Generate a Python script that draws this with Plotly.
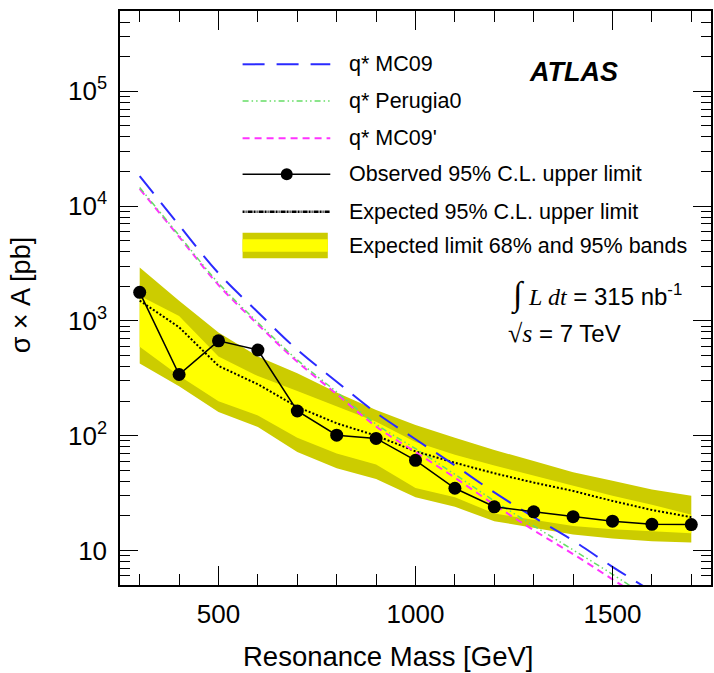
import plotly.graph_objects as go

# ---------------- data ----------------
mass = [300, 400, 500, 600, 700, 800, 900, 1000, 1100, 1200, 1300, 1400, 1500, 1600, 1700]
observed = [1770, 341, 670, 557, 164, 101, 94.6, 61, 34.8, 24, 21.7, 19.7, 18.0, 16.9, 16.8]
expected = [1500, 880, 405, 280, 178, 128, 100, 73, 58, 47, 39, 33, 27, 22.5, 19.5]
band68_lo = [595, 333, 199, 150, 96, 70, 56, 35, 29, 21, 18.5, 16.3, 15.3, 14.6, 14.1]
band68_hi = [1650, 1100, 490, 330, 245, 180, 132, 88, 68, 55, 45, 37, 30, 25, 20.5]
band95_lo = [426, 269, 161, 119, 72, 52, 42, 29, 24, 18, 15.7, 13.8, 12.7, 12.0, 11.7]
band95_hi = [2920, 1500, 790, 490, 350, 237, 167, 124, 96, 75, 60, 48, 40.5, 34, 30]

theory_mass = [300, 400, 500, 600, 700, 800, 900, 1000, 1100, 1200, 1300, 1400, 1500, 1600]
qstar_mc09 = [18200, 6800, 2600, 1190, 560, 295, 158, 93, 55, 32, 19.5, 12.2, 7.2, 4.4]
qstar_perugia0 = [14500, 5550, 2130, 965, 457, 240, 126, 77, 46, 27, 16.4, 10.1, 6.2, 3.7]
qstar_mc09p = [14100, 5400, 2050, 930, 440, 230, 120, 72, 43, 25, 15.0, 9.3, 5.6, 3.4]

legend_labels = ["q* MC09", "q* Perugia0", "q* MC09'",
                 "Observed 95% C.L. upper limit", "Expected 95% C.L. upper limit",
                 "Expected limit 68% and 95% bands"]

x_range = [250, 1750]
y_tickvals = [10, 100, 1000, 10000, 100000]
y_ticktext = ["10", "10<sup>2</sup>", "10<sup>3</sup>", "10<sup>4</sup>", "10<sup>5</sup>"]
y_minor = [m * 10 ** e for e in range(0, 6) for m in range(2, 10)]

# ---------------- colours / styles ----------------
C_BLUE = "#2a2aff"
C_GREEN = "#66dd66"
C_MAG = "#ff33ff"
C_DARK = "#cccc00"
C_LIGHT = "#ffff00"
FONT = "Liberation Sans, Arial, Helvetica, sans-serif"

W, H = 714, 673
L, R, T, B = 120, 1, 11, 88
PW, PH = W - L - R, H - T - B


def px(x):
    return (x - L) / PW


def py(y):
    return (H - B - y) / PH


fig = go.Figure()

# bands
fig.add_trace(go.Scatter(x=mass + mass[::-1], y=band95_hi + band95_lo[::-1],
                         fill="toself", fillcolor=C_DARK, line=dict(width=0),
                         mode="lines", hoverinfo="skip", showlegend=False))
fig.add_trace(go.Scatter(x=mass + mass[::-1], y=band68_hi + band68_lo[::-1],
                         fill="toself", fillcolor=C_LIGHT, line=dict(width=0),
                         mode="lines", hoverinfo="skip", showlegend=False))

# expected
fig.add_trace(go.Scatter(x=mass, y=expected, mode="lines",
                         line=dict(color="black", width=2, dash="2px,2px"),
                         showlegend=False))

# theory curves
fig.add_trace(go.Scatter(x=theory_mass, y=qstar_mc09p, mode="lines", line_shape="spline",
                         line=dict(color=C_MAG, width=2, dash="7px,5px"), showlegend=False))
fig.add_trace(go.Scatter(x=theory_mass, y=qstar_perugia0, mode="lines", line_shape="spline",
                         line=dict(color=C_GREEN, width=1.5, dash="6px,3px,1.5px,3px,1.5px,3px"),
                         showlegend=False))
fig.add_trace(go.Scatter(x=theory_mass, y=qstar_mc09, mode="lines", line_shape="spline",
                         line=dict(color=C_BLUE, width=2, dash="22px,12px"), showlegend=False))

# observed
fig.add_trace(go.Scatter(x=mass, y=observed, mode="lines+markers",
                         line=dict(color="black", width=1.5),
                         marker=dict(color="black", size=13), showlegend=False))

# ---------------- manual legend ----------------
shapes = []
annotations = []
rows = [64.3, 101, 138.3, 174.3, 211.7, 245.5]
lx0, lx1 = 243, 331
styles = [dict(color=C_BLUE, width=2, dash="22px,12px"),
          dict(color=C_GREEN, width=1.5, dash="6px,3px,1.5px,3px,1.5px,3px"),
          dict(color=C_MAG, width=2, dash="7px,5px"),
          dict(color="black", width=1.5),
          dict(color="black", width=2.5, dash="2px,1px,1px,1px,5px,1px")]
for i, st in enumerate(styles):
    shapes.append(dict(type="line", xref="paper", yref="paper",
                       x0=px(lx0), x1=px(lx1), y0=py(rows[i]), y1=py(rows[i]), line=st))
# marker in observed legend
r = 6
shapes.append(dict(type="circle", xref="paper", yref="paper",
                   x0=px(287.3 - r), x1=px(287.3 + r), y0=py(rows[3] + r), y1=py(rows[3] - r),
                   fillcolor="black", line=dict(color="black", width=0)))
# band legend
shapes.append(dict(type="rect", xref="paper", yref="paper", x0=px(243), x1=px(328.5),
                   y0=py(258.3), y1=py(232.7), fillcolor=C_DARK, line=dict(width=0)))
shapes.append(dict(type="rect", xref="paper", yref="paper", x0=px(243), x1=px(328.5),
                   y0=py(251.7), y1=py(239.3), fillcolor=C_LIGHT, line=dict(width=0)))
for i, lab in enumerate(legend_labels):
    annotations.append(dict(text=lab, xref="paper", yref="paper", x=px(348), y=py(rows[i]),
                            xanchor="left", yanchor="middle", showarrow=False,
                            font=dict(family=FONT, size=21.5, color="black")))

# ATLAS label
annotations.append(dict(text="<b><i>ATLAS</i></b>", xref="paper", yref="paper",
                        x=px(575), y=py(72), xanchor="center", yanchor="middle",
                        showarrow=False, font=dict(family=FONT, size=27, color="black")))
# luminosity / energy
annotations.append(dict(
    text=("<span style='font-family:Liberation Serif;font-size:34px'>\u222b</span> "
          "<span style='font-family:Liberation Serif'><i>L dt</i></span> = 315 nb<sup>-1</sup>"),
    xref="paper", yref="paper", x=px(510), y=py(295), xanchor="left", yanchor="middle",
    showarrow=False, font=dict(family=FONT, size=24, color="black")))
annotations.append(dict(
    text="<span style='font-family:Liberation Serif;font-size:26px'>\u221a<i>s</i></span> = 7 TeV",
    xref="paper", yref="paper", x=px(507), y=py(333), xanchor="left", yanchor="middle",
    showarrow=False, font=dict(family=FONT, size=24, color="black")))

# axis titles
annotations.append(dict(text="Resonance Mass [GeV]", xref="paper", yref="paper",
                        x=px(389), y=py(656), xanchor="center", yanchor="middle",
                        showarrow=False, font=dict(family=FONT, size=27.5, color="black")))
annotations.append(dict(text="\u03c3 \u00d7 A [pb]", xref="paper", yref="paper",
                        x=px(21), y=py(295), xanchor="center", yanchor="middle", textangle=-90,
                        showarrow=False, font=dict(family=FONT, size=27, color="black")))

fig.update_layout(
    width=W, height=H,
    margin=dict(l=L, r=R, t=T, b=B),
    paper_bgcolor="white", plot_bgcolor="white",
    shapes=shapes, annotations=annotations,
    showlegend=False,
    font=dict(family=FONT, color="black"),
)
fig.update_xaxes(range=x_range, showgrid=False, zeroline=False,
                 showline=True, linecolor="black", linewidth=1.5, mirror="allticks",
                 ticks="inside", ticklen=19, tickwidth=1.2, tickcolor="black",
                 tickvals=[500, 1000, 1500], ticktext=["500", "1000", "1500"],
                 tickfont=dict(family=FONT, size=26, color="black"),
                 minor=dict(ticks="inside", ticklen=11, tickwidth=1.2, tickcolor="black",
                            tickvals=mass),
                 ticklabelstandoff=5)
fig.update_yaxes(type="log", range=[0.69897, 5.69897], showgrid=False, zeroline=False,
                 showline=True, linecolor="black", linewidth=1.5, mirror="allticks",
                 ticks="inside", ticklen=18, tickwidth=1.2, tickcolor="black",
                 tickvals=y_tickvals, ticktext=y_ticktext,
                 tickfont=dict(family=FONT, size=26, color="black"),
                 minor=dict(ticks="inside", ticklen=10, tickwidth=1.2, tickcolor="black",
                            tickvals=y_minor),
                 ticklabelstandoff=6)

fig.write_html("out.html", config={"displayModeBar": False},
               post_script="document.body.style.margin='0px';")
